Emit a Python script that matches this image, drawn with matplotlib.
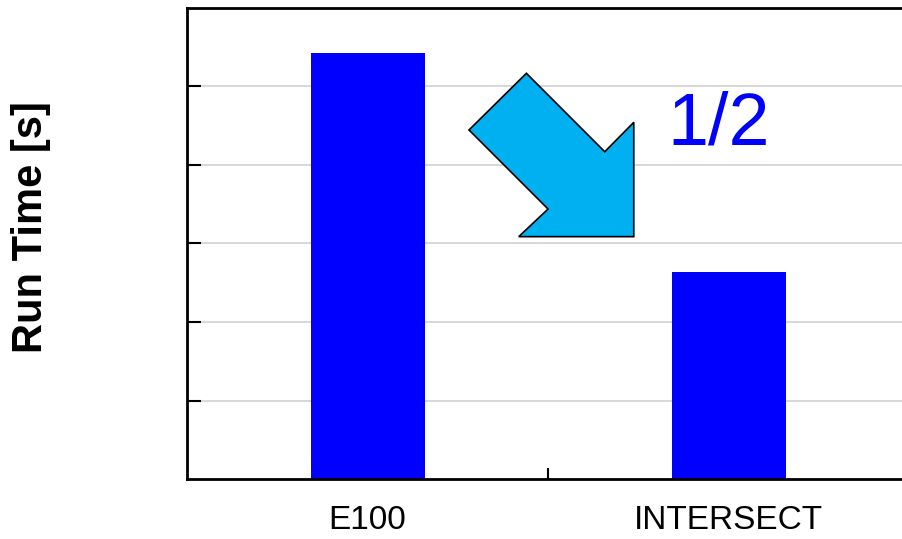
import matplotlib.pyplot as plt
from matplotlib.patches import Polygon

plt.rcParams['font.family'] = ['Liberation Sans', 'DejaVu Sans']

categories = ['E100', 'INTERSECT']
run_times = [5.43, 2.64]
y_ticks = [1, 2, 3, 4, 5]

# block arrow outline, data coords
arrow_x = [0.4396, 0.2806, 0.4995, 0.4183, 0.7368, 0.7368, 0.6565]
arrow_y = [5.168, 4.446, 3.439, 3.087, 3.087, 4.544, 4.169]

fig = plt.figure(figsize=(9.02, 5.39), dpi=100)
ax = fig.add_axes([0.2073, 0.1113, 0.801, 0.8739])

ax.bar(range(len(categories)), run_times, width=0.315, color='#0000FF', zorder=2)

ax.set_xlim(-0.5, 1.5)
ax.set_ylim(0, 6)

ax.set_yticks(y_ticks)
ax.set_yticklabels([])
ax.yaxis.grid(True, color='#d4d4d4', linewidth=1.3, zorder=0)
ax.set_axisbelow(True)
ax.tick_params(axis='y', direction='in', length=10, width=1.5, left=True)

ax.set_xticks([0.5], minor=True)
ax.set_xticks(range(len(categories)))
ax.set_xticklabels(categories, fontsize=24)
ax.tick_params(axis='x', which='major', length=0, pad=19)
ax.tick_params(axis='x', which='minor', direction='in', length=8, width=1.5)

for side in ['left', 'bottom', 'top']:
    ax.spines[side].set_linewidth(2)
ax.spines['right'].set_visible(False)

arrow = Polygon(list(zip(arrow_x, arrow_y)), closed=True, facecolor='#00B0F0',
                edgecolor='black', linewidth=1.2, zorder=3)
ax.add_patch(arrow)

ax.text(0.831, 4.255, '1/2', color='#0000FF', fontsize=53, ha='left', va='baseline')

fig.text(31 / 902, 1 - 227 / 539, 'Run Time [s]', rotation=90, fontsize=30,
         fontweight='bold', ha='center', va='center')

plt.savefig('out.png', dpi=100)
